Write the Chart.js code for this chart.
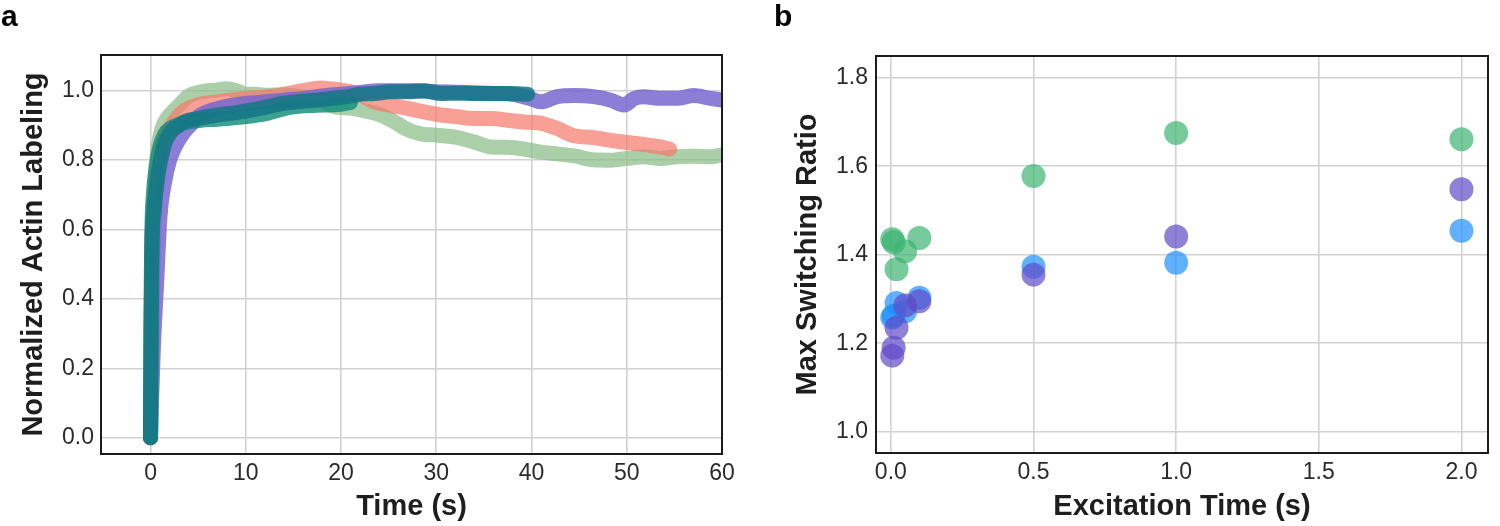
<!DOCTYPE html>
<html>
<head>
<meta charset="utf-8">
<script src="https://cdn.jsdelivr.net/npm/chart.js@4.4.1/dist/chart.umd.min.js"></script>
<style>
  html, body { margin: 0; padding: 0; background: #fff; }
  #wrap { position: relative; width: 1500px; height: 526px; overflow: hidden; background: #fff; }
  .panel { position: absolute; top: 0; width: 750px; height: 526px; }
  .plabel { position: absolute; font-family: "Liberation Sans", Arial, sans-serif; font-weight: bold; font-size: 30px; line-height: 30px; color: #000; }
</style>
</head>
<body>
<div id="wrap">
  <div class="panel" style="left:0"><canvas id="ca" width="750" height="526"></canvas></div>
  <div class="panel" style="left:750px"><canvas id="cb" width="750" height="526"></canvas></div>
  <div class="plabel" style="left:1px; top:1px;">a</div>
  <div class="plabel" style="left:774px; top:1px;">b</div>
</div>
<script>
// ---------- Panel a: Normalized actin labeling vs time ----------
const timeTicks = [0, 10, 20, 30, 40, 50, 60];
const labelTicks = [0.0, 0.2, 0.4, 0.6, 0.8, 1.0];

const greenX = [0, 0.15, 0.4, 0.6, 1.0, 1.5, 2, 3, 4, 5, 6, 7, 8, 9, 10, 11, 12, 14, 16, 17, 18, 19.5, 21, 22.5, 24, 25.5, 27, 28.5, 30, 32, 34, 35.7, 37.5, 39.2, 41, 42.7, 44.5, 46.5, 48.3, 50, 51.8, 53.5, 55.3, 57, 58.8, 60];
const greenY = [0, 0.55, 0.70, 0.79, 0.87, 0.91, 0.93, 0.958, 0.985, 0.995, 1.0, 1.002, 1.006, 1.0, 0.99, 0.99, 0.987, 0.988, 0.982, 0.978, 0.97, 0.953, 0.95, 0.942, 0.932, 0.912, 0.888, 0.875, 0.872, 0.866, 0.852, 0.838, 0.837, 0.832, 0.823, 0.818, 0.812, 0.801, 0.800, 0.805, 0.810, 0.805, 0.810, 0.811, 0.810, 0.815];

const salmonX = [0, 0.3, 0.6, 1, 1.5, 2, 3, 4, 5, 6, 7, 8, 9, 10, 11, 12, 13, 14, 15, 16, 17, 18, 19, 20, 21.7, 23.5, 25.2, 27, 28.7, 30.5, 32.2, 34, 35.7, 37.5, 39.2, 41, 42.7, 44.5, 46.5, 48.3, 50, 51.8, 53.5, 54.5];
const salmonY = [0, 0.55, 0.72, 0.8, 0.86, 0.89, 0.93, 0.95, 0.96, 0.965, 0.968, 0.972, 0.975, 0.978, 0.98, 0.982, 0.985, 0.99, 0.995, 1.0, 1.005, 1.008, 1.005, 1.002, 0.992, 0.968, 0.958, 0.949, 0.939, 0.93, 0.925, 0.92, 0.92, 0.915, 0.91, 0.906, 0.891, 0.87, 0.865, 0.857, 0.851, 0.845, 0.838, 0.832];

const purpleX = [0, 0.1, 0.3, 0.65, 1.0, 1.5, 2, 2.6, 3.5, 4.5, 5, 6, 7, 8, 9, 10, 12, 14, 16, 18, 20, 22, 24, 26, 28, 30, 32, 34, 36, 38, 39.8, 41, 42.7, 44.5, 46.5, 48.3, 49.7, 50.8, 51.8, 53.5, 55.3, 57, 58.8, 60];
const purpleY = [0, 0.1, 0.26, 0.45, 0.64, 0.74, 0.8, 0.84, 0.88, 0.91, 0.925, 0.94, 0.948, 0.955, 0.96, 0.963, 0.968, 0.973, 0.978, 0.985, 0.99, 0.995, 1.0, 1.0, 1.0, 0.997, 0.996, 0.994, 0.992, 0.99, 0.978, 0.968, 0.983, 0.986, 0.983, 0.973, 0.959, 0.978, 0.983, 0.978, 0.978, 0.986, 0.978, 0.973];

const teal1X = [0, 0.05, 0.15, 0.3, 0.6, 1, 1.5, 2, 3, 4, 5.3, 7, 9.8, 12.2, 14.6, 17.4, 19.5, 21];
const teal1Y = [0, 0.35, 0.6, 0.7, 0.78, 0.84, 0.875, 0.89, 0.903, 0.91, 0.915, 0.918, 0.925, 0.935, 0.952, 0.958, 0.96, 0.966];

const teal2X = [0, 0.05, 0.15, 0.35, 0.7, 1.4, 2.1, 3, 3.6, 5, 7, 9, 10.5, 12, 14, 16, 17.5, 19, 20.7, 22, 23.5, 25.2, 27, 28.7, 30.5, 32.2, 34, 35.7, 37.5, 39.6];
const teal2Y = [0, 0.3, 0.55, 0.65, 0.74, 0.84, 0.88, 0.9, 0.911, 0.92, 0.93, 0.937, 0.944, 0.952, 0.964, 0.97, 0.973, 0.978, 0.983, 0.99, 0.992, 0.997, 0.997, 1.0, 0.992, 0.993, 0.992, 0.992, 0.992, 0.99];

// ---------- Panel b: Max switching ratio vs excitation time ----------
const excTicks = [0.0, 0.5, 1.0, 1.5, 2.0];
const ratioTicks = [1.0, 1.2, 1.4, 1.6, 1.8];
const greenPtsX = [0.005, 0.01, 0.02, 0.05, 0.1, 0.5, 1.0, 2.0];
const greenPtsY = [1.435, 1.428, 1.367, 1.408, 1.438, 1.578, 1.675, 1.661];
const bluePtsX = [0.005, 0.01, 0.02, 0.05, 0.1, 0.5, 1.0, 2.0];
const bluePtsY = [1.258, 1.262, 1.291, 1.272, 1.303, 1.373, 1.382, 1.454];
const purplePtsX = [0.005, 0.01, 0.02, 0.05, 0.1, 0.5, 1.0, 2.0];
const purplePtsY = [1.172, 1.19, 1.235, 1.285, 1.295, 1.355, 1.441, 1.548];

const FONT = '"Liberation Sans", Arial, sans-serif';
const pts = (xs, ys) => xs.map((x, i) => ({ x: x, y: ys[i] }));

Chart.defaults.font.family = FONT;
Chart.defaults.color = '#262626';

const framePlugin = {
  id: 'frame',
  afterDatasetsDraw(chart) {
    const a = chart.chartArea, ctx = chart.ctx;
    ctx.save();
    ctx.strokeStyle = '#1c1c1c';
    ctx.lineWidth = 2;
    ctx.strokeRect(a.left, a.top, a.right - a.left, a.bottom - a.top);
    ctx.restore();
  }
};

function axis(opts) {
  return {
    type: 'linear',
    position: opts.position,
    min: opts.min,
    max: opts.max,
    afterBuildTicks: (s) => { s.ticks = opts.ticks.map(v => ({ value: v })); },
    afterFit: (s) => { if (opts.position === 'left') s.width = opts.size; else s.height = opts.size; },
    grid: { color: '#d2d2d2', lineWidth: 1.6, drawTicks: false },
    border: { display: false },
    ticks: {
      autoSkip: false, maxRotation: 0, padding: opts.pad,
      font: { size: 23, family: FONT }, color: '#2b2b2b',
      callback: opts.fmt
    },
    title: {
      display: true, text: opts.title, color: '#1e1e1e',
      font: { size: 29, weight: 'bold', family: FONT },
      padding: opts.tpad
    }
  };
}

function lineDs(xs, ys, color, order) {
  return {
    data: pts(xs, ys),
    borderColor: color,
    backgroundColor: color,
    borderWidth: 15,
    pointRadius: 0,
    borderCapStyle: 'round',
    borderJoinStyle: 'round',
    cubicInterpolationMode: 'monotone',
    fill: false,
    order: order
  };
}

new Chart(document.getElementById('ca'), {
  type: 'line',
  data: {
    datasets: [
      lineDs(teal2X, teal2Y, 'rgba(22,118,134,0.88)', 1),
      lineDs(teal1X, teal1Y, 'rgba(16,142,122,0.82)', 2),
      lineDs(purpleX, purpleY, 'rgba(120,102,208,0.85)', 3),
      lineDs(salmonX, salmonY, 'rgba(245,120,105,0.7)', 4),
      lineDs(greenX, greenY, 'rgba(135,188,133,0.7)', 5)
    ]
  },
  options: {
    responsive: false, animation: false, devicePixelRatio: 1,
    layout: { padding: { top: 55, right: 28, left: 0, bottom: 0 } },
    plugins: { legend: { display: false }, tooltip: { enabled: false } },
    scales: {
      x: axis({ position: 'bottom', min: -5.2, max: 60, ticks: timeTicks, size: 72, pad: 6,
               fmt: v => String(v), title: 'Time (s)', tpad: { top: 0, bottom: 2 } }),
      y: axis({ position: 'left', min: -0.047, max: 1.103, ticks: labelTicks, size: 101, pad: 7,
               fmt: v => v.toFixed(1), title: 'Normalized Actin Labeling', tpad: { top: 17, bottom: 0 } })
    }
  },
  plugins: [framePlugin]
});

function dotDs(xs, ys, color, order) {
  return {
    data: pts(xs, ys),
    backgroundColor: color,
    borderColor: color,
    borderWidth: 0,
    pointRadius: 12,
    pointHoverRadius: 12,
    order: order
  };
}

new Chart(document.getElementById('cb'), {
  type: 'scatter',
  data: {
    datasets: [
      dotDs(purplePtsX, purplePtsY, 'rgba(95,74,199,0.7)', 1),
      dotDs(bluePtsX, bluePtsY, 'rgba(30,144,255,0.7)', 2),
      dotDs(greenPtsX, greenPtsY, 'rgba(60,179,113,0.7)', 3)
    ]
  },
  options: {
    responsive: false, animation: false, devicePixelRatio: 1,
    layout: { padding: { top: 56, right: 3, left: 0, bottom: 0 } },
    plugins: { legend: { display: false }, tooltip: { enabled: false } },
    scales: {
      x: axis({ position: 'bottom', min: -0.052, max: 2.093, ticks: excTicks, size: 73, pad: 6,
               fmt: v => v.toFixed(1), title: 'Excitation Time (s)', tpad: { top: 0, bottom: 2 } }),
      y: axis({ position: 'left', min: 0.952, max: 1.849, ticks: ratioTicks, size: 126, pad: 8,
               fmt: v => v.toFixed(1), title: 'Max Switching Ratio', tpad: { top: 41, bottom: 0 } })
    }
  },
  plugins: [framePlugin]
});
</script>
</body>
</html>
